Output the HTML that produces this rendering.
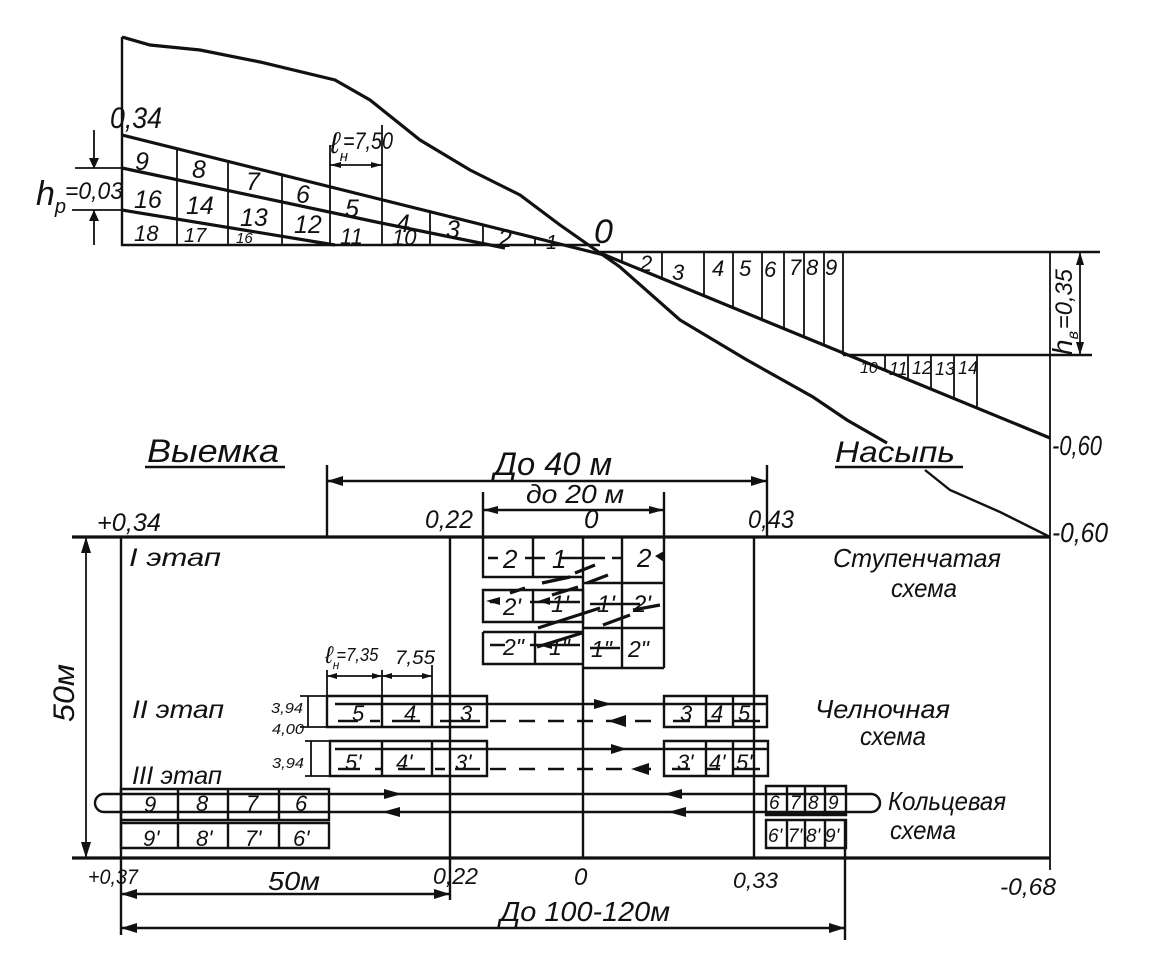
<!DOCTYPE html>
<html lang="ru"><head><meta charset="utf-8"><title>Схема</title>
<style>html,body{margin:0;padding:0;background:#fff}svg{display:block}
text{font-family:"Liberation Sans","DejaVu Sans",sans-serif;font-style:italic;fill:#111}
.l{fill:none;stroke:#111;stroke-width:2.4}.t{fill:none;stroke:#111;stroke-width:3.2}.n{fill:none;stroke:#111;stroke-width:1.8}.d{fill:none;stroke:#111;stroke-width:2.4;stroke-dasharray:16 13}.a{fill:#111;stroke:none}</style></head><body>
<svg width="1153" height="973" viewBox="0 0 1153 973" xmlns="http://www.w3.org/2000/svg">
<!-- terrain -->
<path class="t" d="M122,37 L150,45 L200,50 L260,62 L335,80 L370,100 L420,140 L470,170 L520,195 L560,225 L600,253 L620,267 L680,320 L747,360 L813,397 L847,420 L887,443"/>
<path class="l" d="M925,470 L950,490 L1000,512 L1050,537"/>
<!-- cut section -->
<path class="l" d="M122,37 V245 H600"/>
<path class="t" d="M122,135 L604,255"/>
<path class="t" d="M122,168 L381,223 L505,248"/>
<path class="t" d="M122,210 L335,245"/>
<path class="n" d="M177,149V245 M228,161V245 M282,175V245 M330,145V245 M382,125V245 M430,210V245 M483,225V245 M535,238V245"/>
<path class="n" d="M75,168H122 M72,210H122"/>
<path class="n" d="M94,130V168 M94,210V245"/>
<path class="a" d="M94,169l-5,-11h10z M94,210l-5,11h10z"/>
<path class="n" d="M330,165H382"/><path class="a" d="M330,165l11,-3v6z M382,165l-11,-3v6z"/>
<!-- fill section -->
<path class="l" d="M600,252H1100 M843,355H1092"/>
<path class="t" d="M600,253 L1050,438"/>
<path class="n" d="M622,252V262 M662,252V278 M704,252V296 M733,252V308 M762,252V320 M784,252V329 M804,252V337 M824,252V345 M843,252V355 M885,355V370 M908,355V380 M931,355V389 M954,355V398 M977,355V408"/>
<path class="n" d="M1050,252V870 M1080,252V355"/><path class="a" d="M1080,252l-4,13h8z M1080,355l-4,-13h8z"/>
<!-- section numbers -->
<g font-size="25">
<text x="135" y="170">9</text><text x="192" y="178">8</text><text x="246" y="190">7</text><text x="296" y="203">6</text><text x="345" y="217">5</text><text x="396" y="232">4</text><text x="446" y="238">3</text><text x="498" y="247">2</text><text x="546" y="249" font-size="20">1</text>
<text x="134" y="208">16</text><text x="186" y="214">14</text><text x="240" y="226">13</text><text x="294" y="233">12</text></g>
<g font-size="22"><text x="134" y="241">18</text><text x="184" y="242" font-size="20">17</text><text x="236" y="243" font-size="15">16</text><text x="340" y="244">11</text><text x="392" y="245">10</text></g>
<g font-size="22"><text x="640" y="271">2</text><text x="672" y="280">3</text><text x="712" y="276">4</text><text x="739" y="276">5</text><text x="764" y="277">6</text><text x="789" y="275">7</text><text x="806" y="275">8</text><text x="825" y="275">9</text></g>
<g font-size="18"><text x="860" y="373" font-size="16">10</text><text x="889" y="375">11</text><text x="912" y="374">12</text><text x="935" y="375">13</text><text x="958" y="374">14</text></g>
<text x="110" y="128" font-size="30" textLength="52" lengthAdjust="spacingAndGlyphs">0,34</text>
<text x="330" y="153" font-size="30">ℓ<tspan font-size="15" dy="8">н</tspan><tspan dy="-12" font-size="24" dx="-5" textLength="50" lengthAdjust="spacingAndGlyphs">=7,50</tspan></text>
<text x="36" y="205" font-size="34">h<tspan font-size="20" dy="8">р</tspan></text>
<text x="65" y="199" font-size="24" textLength="58" lengthAdjust="spacingAndGlyphs">=0,03</text>
<text x="594" y="243" font-size="34">0</text>
<text transform="translate(1072,355) rotate(-90)" font-size="28">h<tspan font-size="16" dy="6">в</tspan><tspan dy="-6" font-size="24" dx="2" textLength="60" lengthAdjust="spacingAndGlyphs">=0,35</tspan></text>
<text x="1052" y="455" font-size="28" textLength="50" lengthAdjust="spacingAndGlyphs">-0,60</text>
<!-- headings -->
<text x="147" y="462" font-size="32" textLength="132" lengthAdjust="spacingAndGlyphs">Выемка</text>
<path class="l" d="M145,467H285 M835,467H963"/>
<text x="835" y="462" font-size="30" textLength="120" lengthAdjust="spacingAndGlyphs">Насыпь</text>
<text x="494" y="475" font-size="32" textLength="118" lengthAdjust="spacingAndGlyphs">До 40 м</text>
<text x="526" y="503" font-size="26" textLength="98" lengthAdjust="spacingAndGlyphs">до 20 м</text>
<path class="l" d="M327,465V537 M767,465V537 M327,481H767 M483,492V537 M664,492V537 M483,510H664"/>
<path class="a" d="M327,481l16,-5v10z M767,481l-16,-5v10z M483,510l15,-4v8z M664,510l-15,-4v8z"/>
<text x="97" y="531" font-size="25" textLength="64" lengthAdjust="spacingAndGlyphs">+0,34</text>
<text x="425" y="528" font-size="25" textLength="48" lengthAdjust="spacingAndGlyphs">0,22</text>
<text x="584" y="528" font-size="26">0</text>
<text x="748" y="528" font-size="25" textLength="46" lengthAdjust="spacingAndGlyphs">0,43</text>
<text x="1052" y="542" font-size="28" textLength="56" lengthAdjust="spacingAndGlyphs">-0,60</text>
<!-- plan frame -->
<path class="t" d="M72,537H1050 M72,858H1050"/>
<path class="l" d="M121,537V935 M450,537V900 M583,537V858 M754,537V858 M845,820V940"/>
<path class="n" d="M86,537V858"/><path class="a" d="M86,537l-5,16h10z M86,858l-5,-16h10z"/>
<text transform="translate(74,722) rotate(-90)" font-size="30" textLength="58" lengthAdjust="spacingAndGlyphs">50м</text>
<text x="129" y="566" font-size="25" textLength="92" lengthAdjust="spacingAndGlyphs">I этап</text>
<text x="833" y="567" font-size="26" textLength="168" lengthAdjust="spacingAndGlyphs">Ступенчатая</text>
<text x="891" y="597" font-size="26" textLength="66" lengthAdjust="spacingAndGlyphs">схема</text>
<!-- stepped scheme -->
<path class="l" d="M483,537V577H583 M533,537V577 M622,537V668 M664,537V668 M583,583H664 M483,590H583V622H483Z M533,590V622 M583,628H664 M483,632H583 M483,632V664H583 M535,632V664 M583,668H664"/>
<path class="t" d="M542,583L570,577 M575,573L595,565 M587,583L608,575 M510,593L525,588 M552,595L578,587 M538,628L600,608 M603,625L630,615 M633,610L660,605 M537,647L582,633"/>
<path class="l" d="M488,558H498 M525,558H545 M560,558H605 M612,558H622 M490,602H500 M530,602H580 M590,604H640 M490,645H505 M530,645H580 M590,648H620"/>
<path class="a" d="M655,556l9,-5v11z M486,601l14,-4v8z M538,601l12,-4v8z M538,645l14,-4v8z"/>
<g font-size="26"><text x="503" y="568">2</text><text x="552" y="568">1</text><text x="637" y="567">2</text>
<text x="503" y="615" font-size="24">2'</text><text x="551" y="612" font-size="24">1'</text><text x="597" y="612" font-size="24">1'</text><text x="633" y="612" font-size="24">2'</text>
<text x="503" y="655" font-size="23">2"</text><text x="549" y="655" font-size="23">1"</text><text x="591" y="657" font-size="23">1"</text><text x="628" y="657" font-size="23">2"</text></g>
<!-- shuttle -->
<path class="l" d="M327,696H487V727H327Z M382,696V727 M432,696V727 M664,696H767V727H664Z M706,696V727 M733,696V727"/>
<path class="l" d="M330,741H487V776H330Z M382,741V776 M432,741V776 M664,741H768V776H664Z M706,741V776 M733,741V776"/>
<path class="n" d="M300,696H327 M300,727H327 M305,741H330 M305,776H330 M308,696V727 M311,741V776"/>
<path class="n" d="M327,670V696 M382,670V696 M432,665V696"/>
<path class="n" d="M327,676H432"/><path class="a" d="M327,676l10,-3v6z M382,676l-10,-3v6z M382,676l10,-3v6z M432,676l-10,-3v6z"/>
<text x="325" y="663" font-size="24">ℓ<tspan font-size="12" dy="6">н</tspan><tspan font-size="18" dy="-8" dx="-3" textLength="42" lengthAdjust="spacingAndGlyphs">=7,35</tspan></text>
<text x="395" y="664" font-size="19" textLength="40" lengthAdjust="spacingAndGlyphs">7,55</text>
<path class="l" d="M335,704H664 M664,704H767 M335,749H768"/>
<path class="l" d="M338,721H358 M370,721H380 M392,721H420 M440,721H480 M673,721H690 M705,721H720 M733,721H760"/>
<path class="d" d="M490,721H664"/>
<path class="l" d="M338,769H360 M375,769H382 M398,769H425 M435,769H445 M455,769H480 M672,769H690 M705,769H720 M733,769H760"/>
<path class="d" d="M490,769H664"/>
<path class="a" d="M612,704l-18,-5v10z M608,721l18,-6v12z M627,749l-16,-5v10z M631,769l18,-6v12z"/>
<g font-size="22"><text x="352" y="721">5</text><text x="404" y="721">4</text><text x="460" y="721">3</text><text x="680" y="721">3</text><text x="711" y="721">4</text><text x="738" y="721">5</text>
<text x="345" y="770">5'</text><text x="396" y="770">4'</text><text x="455" y="770">3'</text><text x="677" y="770">3'</text><text x="709" y="770">4'</text><text x="736" y="770">5'</text></g>
<text x="271" y="713" font-size="15" textLength="32" lengthAdjust="spacingAndGlyphs">3,94</text>
<text x="272" y="734" font-size="15" textLength="32" lengthAdjust="spacingAndGlyphs">4,00</text>
<text x="272" y="768" font-size="15" textLength="32" lengthAdjust="spacingAndGlyphs">3,94</text>
<text x="132" y="718" font-size="25" textLength="92" lengthAdjust="spacingAndGlyphs">II этап</text>
<text x="132" y="784" font-size="25" textLength="90" lengthAdjust="spacingAndGlyphs">III этап</text>
<text x="815" y="718" font-size="26" textLength="135" lengthAdjust="spacingAndGlyphs">Челночная</text>
<text x="860" y="745" font-size="26" textLength="66" lengthAdjust="spacingAndGlyphs">схема</text>
<!-- ring -->
<path class="l" d="M121,789H329V820H121Z M178,789V820 M228,789V820 M279,789V820 M121,823H329V848H121Z M178,823V848 M228,823V848 M279,823V848"/>
<path class="l" d="M766,786H846V815H766Z M787,786V815 M805,786V815 M825,786V815 M766,820H846V848H766Z M787,820V848 M805,820V848 M825,820V848"/>
<rect class="l" x="95" y="794" width="785" height="18" rx="9"/>
<path class="t" d="M766,813H846"/>
<path class="a" d="M402,794l-18,-5v10z M382,812l18,-5v10z M668,812l18,-5v10z M664,794l18,-5v10z"/>
<g font-size="22"><text x="144" y="812">9</text><text x="196" y="811">8</text><text x="246" y="811">7</text><text x="295" y="811">6</text>
<text x="143" y="846">9'</text><text x="196" y="846">8'</text><text x="245" y="846">7'</text><text x="293" y="846">6'</text></g>
<g font-size="19"><text x="769" y="809">6</text><text x="790" y="809">7</text><text x="808" y="809">8</text><text x="828" y="809">9</text>
<text x="768" y="842">6'</text><text x="788" y="842">7'</text><text x="806" y="842">8'</text><text x="825" y="842">9'</text></g>
<text x="888" y="810" font-size="26" textLength="118" lengthAdjust="spacingAndGlyphs">Кольцевая</text>
<text x="890" y="839" font-size="26" textLength="66" lengthAdjust="spacingAndGlyphs">схема</text>
<!-- bottom dims -->
<text x="88" y="884" font-size="21" textLength="50" lengthAdjust="spacingAndGlyphs">+0,37</text>
<text x="268" y="890" font-size="26" textLength="52" lengthAdjust="spacingAndGlyphs">50м</text>
<text x="433" y="884" font-size="23" textLength="45" lengthAdjust="spacingAndGlyphs">0,22</text>
<text x="574" y="885" font-size="24">0</text>
<text x="733" y="888" font-size="22" textLength="45" lengthAdjust="spacingAndGlyphs">0,33</text>
<text x="1000" y="895" font-size="24" textLength="56" lengthAdjust="spacingAndGlyphs">-0,68</text>
<text x="500" y="921" font-size="28" textLength="170" lengthAdjust="spacingAndGlyphs">До 100-120м</text>
<path class="l" d="M121,894H450 M121,928H845"/>
<path class="a" d="M121,894l16,-5v10z M450,894l-16,-5v10z M121,928l16,-5v10z M845,928l-16,-5v10z"/>
</svg></body></html>
